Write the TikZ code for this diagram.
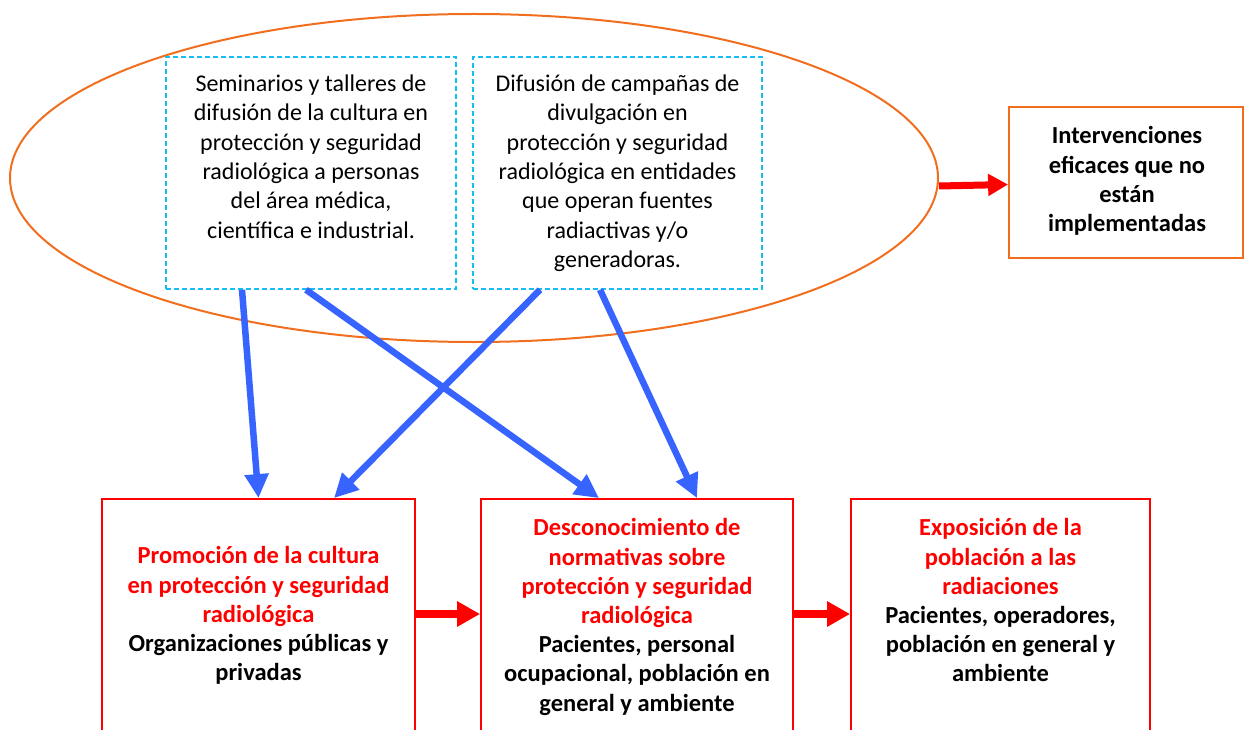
\documentclass[tikz,border=0pt]{standalone}
\usepackage{fontspec}
\setmainfont{Carlito}
\usetikzlibrary{shapes.geometric,arrows.meta}
\definecolor{orangec}{RGB}{240,110,30}
\definecolor{cyanc}{RGB}{20,190,240}
\definecolor{bluec}{RGB}{55,100,255}
\definecolor{redc}{RGB}{255,0,0}
\tikzset{
  dbox/.style={draw=cyanc, line width=1.5pt, dash pattern=on 5pt off 3pt, inner sep=0pt},
  rbox/.style={draw=redc, line width=1.8pt, inner sep=0pt},
  obox/.style={draw=orangec, line width=1.8pt, inner sep=0pt},
  txt/.style={align=center, inner sep=0pt, font=\fontsize{24}{29.4}\selectfont},
  btxt/.style={align=center, inner sep=0pt, font=\fontsize{24.5}{29.2}\selectfont\bfseries},
  bluearrow/.style={draw=bluec, line width=6.5pt, -{Triangle[length=24pt,width=23pt]}},
  redarrow/.style={draw=redc, line width=8pt, -{Triangle[length=23pt,width=24pt]}},
}
\begin{document}
\begin{tikzpicture}[x=1pt,y=-1pt]
\useasboundingbox (0,0) rectangle (1244,730);
% ellipse and dashed boxes
\node[ellipse, draw=orangec, line width=2pt, minimum width=928pt, minimum height=328pt, inner sep=0pt] (ell) at (474,178) {};
\node[dbox, minimum width=290pt, minimum height=232pt] (d1) at (311,173) {};
\node[dbox, minimum width=289pt, minimum height=232pt] (d2) at (617.5,173) {};
\node[txt, anchor=north] (t1) at (311,74.5) {Seminarios y talleres de\\difusión de la cultura en\\protección y seguridad\\radiológica a personas\\del área médica,\\científica e industrial.};
\node[txt, anchor=north] (t2) at (617.5,74.5) {Difusión de campañas de\\divulgación en\\protección y seguridad\\radiológica en entidades\\que operan fuentes\\radiactivas y/o\\generadoras.};
% right box
\node[obox, minimum width=234pt, minimum height=151pt] (iv) at (1126,182.5) {};
\node[btxt, anchor=north] (ivt) at (1127,126.5) {Intervenciones\\eficaces que no\\están\\implementadas};
% bottom boxes
\node[rbox, minimum width=313pt, minimum height=261pt] (b1) at (258.5,629.5) {};
\node[rbox, minimum width=312pt, minimum height=261pt] (b2) at (637,629.5) {};
\node[rbox, minimum width=299pt, minimum height=261pt] (b3) at (1000.5,629.5) {};
\node[btxt, anchor=north] (bt1) at (258.5,546.5) {\textcolor{redc}{Promoción de la cultura}\\\textcolor{redc}{en protección y seguridad}\\\textcolor{redc}{radiológica}\\Organizaciones públicas y\\privadas};
\node[btxt, anchor=north] (bt2) at (637,518.5) {\textcolor{redc}{Desconocimiento de}\\\textcolor{redc}{normativas sobre}\\\textcolor{redc}{protección y seguridad}\\\textcolor{redc}{radiológica}\\Pacientes, personal\\ocupacional, población en\\general y ambiente};
\node[btxt, anchor=north] (bt3) at (1000.5,518.5) {\textcolor{redc}{Exposición de la}\\\textcolor{redc}{población a las}\\\textcolor{redc}{radiaciones}\\Pacientes, operadores,\\población en general y\\ambiente};
% red arrows
\draw[redarrow, line width=7pt, -{Triangle[length=20pt,width=21pt]}] ([yshift=-8pt]ell.east) -- ([yshift=-2pt]iv.west);
\draw[redarrow] ([yshift=15.5pt]b1.east) -- ([yshift=15.5pt]b2.west);
\draw[redarrow] ([yshift=15.5pt]b2.east) -- ([yshift=15.5pt]b3.west);
% blue arrows
\draw[bluearrow] ([xshift=-69pt]d1.south) -- (b1.north);
\draw[bluearrow] ([xshift=-77.5pt]d2.south) -- ([xshift=75.5pt]b1.north);
\draw[bluearrow] ([xshift=-5pt]d1.south) -- ([xshift=-38pt]b2.north);
\draw[bluearrow] ([xshift=-17.5pt]d2.south) -- ([xshift=60pt]b2.north);
\end{tikzpicture}
\end{document}
